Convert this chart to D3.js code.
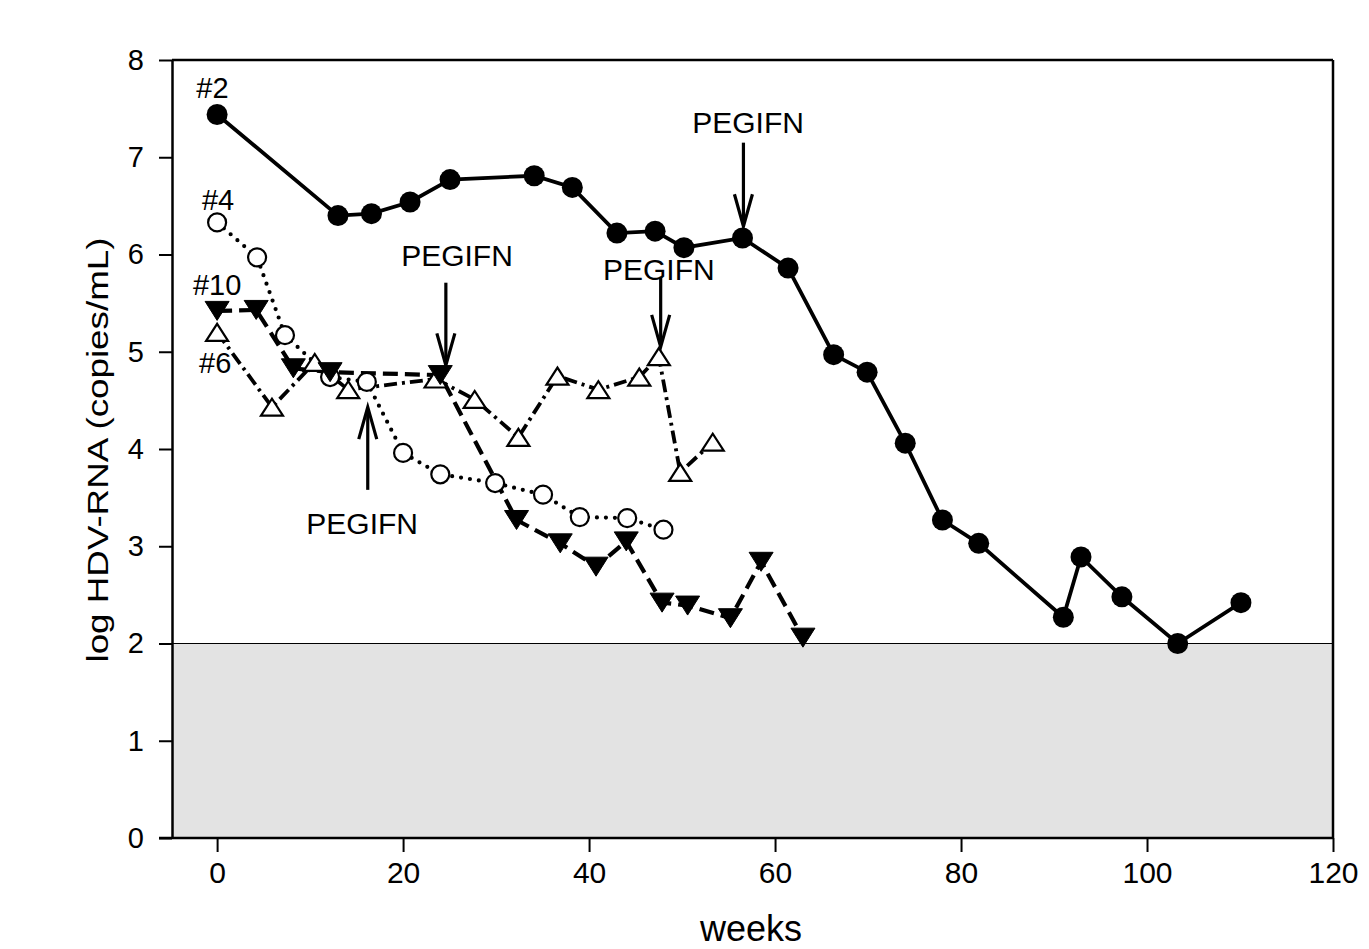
<!DOCTYPE html>
<html>
<head>
<meta charset="utf-8">
<script src="https://cdn.jsdelivr.net/npm/d3@7"></script>
<style>
  html, body { margin: 0; padding: 0; background: #fff; }
  svg { display: block; font-family: "Liberation Sans", Arial, sans-serif; }
</style>
</head>
<body>
<svg id="chart" width="1369" height="949"></svg>
<script>
// ---- data (weeks, log HDV-RNA) ----
const p2Weeks  = [0, 13.0, 16.6, 20.75, 25.05, 34.1, 38.2, 43.0, 47.1, 50.2, 56.5, 61.4, 66.3, 69.9, 74.0, 78.0, 81.9, 91.0, 92.9, 97.3, 103.3, 110.1];
const p2Values = [7.44, 6.40, 6.42, 6.54, 6.77, 6.81, 6.69, 6.22, 6.24, 6.07, 6.17, 5.86, 4.97, 4.79, 4.06, 3.27, 3.03, 2.27, 2.89, 2.48, 2.00, 2.42];

const p4Weeks  = [0, 4.3, 7.3, 12.15, 16.1, 20.0, 24.0, 29.9, 35.05, 39.0, 44.1, 48.0];
const p4Values = [6.33, 5.97, 5.17, 4.74, 4.69, 3.96, 3.74, 3.65, 3.53, 3.30, 3.29, 3.17];

const p10Weeks  = [0, 4.2, 8.2, 12.15, 24.0, 32.2, 36.9, 40.75, 44.0, 47.85, 50.6, 55.2, 58.5, 63.0];
const p10Values = [5.42, 5.43, 4.83, 4.79, 4.76, 3.27, 3.03, 2.79, 3.05, 2.42, 2.39, 2.26, 2.84, 2.06];

const p6Weeks  = [0, 5.9, 10.5, 14.1, 23.5, 27.7, 32.4, 36.6, 41.0, 45.4, 47.5, 49.8, 53.3];
const p6Values = [5.20, 4.43, 4.89, 4.61, 4.72, 4.51, 4.12, 4.75, 4.61, 4.74, 4.95, 3.76, 4.07];

const xTicks = [0, 20, 40, 60, 80, 100, 120];
const yTicks = [0, 1, 2, 3, 4, 5, 6, 7, 8];
const detectionLimit = 2;

const seriesNames  = ["#2", "#4", "#10", "#6"];
const labelWeeks   = [-0.5, 0.1, 0.0, -0.2];
const labelValues  = [7.61, 6.46, 5.58, 4.78];

// PEGIFN annotations: arrow at week, tip value, tail value, text week, text baseline value
const annText      = ["PEGIFN", "PEGIFN", "PEGIFN", "PEGIFN"];
const annArrowWeek = [56.6, 24.6, 47.7, 16.2];
const annTipValue  = [6.29, 4.86, 5.05, 4.43];
const annTailValue = [7.15, 5.71, 5.77, 3.58];
const annTextWeek  = [57.1, 25.8, 47.5, 15.6];
const annTextValue = [7.25, 5.88, 5.74, 3.13];

// ---- layout ----
const svg = d3.select("#chart");
const L = 172, R = 1333, T = 60, B = 838;
const x = d3.scaleLinear().domain([-4.85, 120]).range([L, R]);
const y = d3.scaleLinear().domain([0, 8]).range([B, T]);

const zip = (ws, vs) => ws.map((w, i) => ({w, v: vs[i]}));
const s2 = zip(p2Weeks, p2Values), s4 = zip(p4Weeks, p4Values),
      s10 = zip(p10Weeks, p10Values), s6 = zip(p6Weeks, p6Values);

// grey band below detection limit
svg.append("rect")
  .attr("x", L).attr("y", y(detectionLimit))
  .attr("width", R - L).attr("height", y(0) - y(detectionLimit))
  .attr("fill", "#e3e3e3");
svg.append("line")
  .attr("x1", L).attr("x2", R)
  .attr("y1", y(detectionLimit)).attr("y2", y(detectionLimit))
  .attr("stroke", "#000").attr("stroke-width", 1.2);

// frame (top, right)
svg.append("line").attr("x1", L).attr("x2", R).attr("y1", T).attr("y2", T)
  .attr("stroke", "#000").attr("stroke-width", 2.5);
svg.append("line").attr("x1", R).attr("x2", R).attr("y1", T).attr("y2", B)
  .attr("stroke", "#000").attr("stroke-width", 2.5);

// axes
const xAxis = d3.axisBottom(x).tickValues(xTicks).tickSize(14).tickSizeOuter(0).tickPadding(10);
const gx = svg.append("g").attr("transform", `translate(0,${B})`).call(xAxis);
gx.select(".domain").attr("stroke-width", 2.5).attr("d", `M${L - 13},0H${R}`);
gx.selectAll(".tick line").attr("stroke-width", 2);
gx.selectAll(".tick text").attr("font-size", 30).attr("font-family", "Liberation Sans, Arial, sans-serif").attr("fill", "#000");

const yAxis = d3.axisLeft(y).tickValues(yTicks).tickSize(13).tickSizeOuter(0).tickPadding(15);
const gy = svg.append("g").attr("transform", `translate(${L},0)`).call(yAxis);
gy.select(".domain").attr("stroke-width", 2.5);
gy.selectAll(".tick line").attr("stroke-width", 2);
gy.selectAll(".tick text").attr("font-size", 29).attr("font-family", "Liberation Sans, Arial, sans-serif").attr("fill", "#000");

// axis titles
svg.append("text")
  .attr("x", (x(0) + x(120)) / 2 - 24).attr("y", 941)
  .attr("text-anchor", "middle").attr("font-size", 36)
  .text("weeks");
svg.append("text")
  .attr("transform", `translate(108,450) rotate(-90)`)
  .attr("text-anchor", "middle").attr("font-size", 30)
  .attr("textLength", 425).attr("lengthAdjust", "spacingAndGlyphs")
  .text("log HDV-RNA  (copies/mL)");

const line = d3.line().x(d => x(d.w)).y(d => y(d.v));

// lines
svg.append("path").datum(s6).attr("d", line).attr("fill", "none")
  .attr("stroke", "#000").attr("stroke-width", 3.8).attr("stroke-dasharray", "13,5,3,5");
svg.append("path").datum(s4).attr("d", line).attr("fill", "none")
  .attr("stroke", "#000").attr("stroke-width", 4.2).attr("stroke-linecap", "round").attr("stroke-dasharray", "0,9");
svg.append("path").datum(s10).attr("d", line).attr("fill", "none")
  .attr("stroke", "#000").attr("stroke-width", 4.2).attr("stroke-dasharray", "15,7");
svg.append("path").datum(s2).attr("d", line).attr("fill", "none")
  .attr("stroke", "#000").attr("stroke-width", 3.8);

// markers
const triUp = (cx, cy, w, h) => `M${cx - w / 2},${cy + h / 2}L${cx + w / 2},${cy + h / 2}L${cx},${cy - h / 2}Z`;
const triDown = (cx, cy, w, h) => `M${cx - w / 2},${cy - h / 2}L${cx + w / 2},${cy - h / 2}L${cx},${cy + h / 2}Z`;

svg.append("g").selectAll("path").data(s6).join("path")
  .attr("d", d => triUp(x(d.w), y(d.v), 22, 17))
  .attr("fill", "#fff").attr("stroke", "#000").attr("stroke-width", 2.2);
svg.append("g").selectAll("circle").data(s4).join("circle")
  .attr("cx", d => x(d.w)).attr("cy", d => y(d.v)).attr("r", 9)
  .attr("fill", "#fff").attr("stroke", "#000").attr("stroke-width", 2.2);
svg.append("g").selectAll("path").data(s10).join("path")
  .attr("d", d => triDown(x(d.w), y(d.v), 24, 19))
  .attr("fill", "#000").attr("stroke", "#000").attr("stroke-width", 1);
svg.append("g").selectAll("circle").data(s2).join("circle")
  .attr("cx", d => x(d.w)).attr("cy", d => y(d.v)).attr("r", 10.5)
  .attr("fill", "#000");

// series labels
svg.append("g").selectAll("text").data(seriesNames).join("text")
  .attr("x", (d, i) => x(labelWeeks[i])).attr("y", (d, i) => y(labelValues[i]))
  .attr("text-anchor", "middle").attr("font-size", 29).text(d => d);

// annotations
annText.forEach((t, i) => {
  const ax = x(annArrowWeek[i]), tip = y(annTipValue[i]), tail = y(annTailValue[i]);
  const dir = tip > tail ? 1 : -1;
  const g = svg.append("g").attr("stroke", "#000").attr("fill", "none").attr("stroke-width", 3.2);
  g.append("line").attr("x1", ax).attr("x2", ax).attr("y1", tail).attr("y2", tip - dir * 2);
  g.append("path").attr("d", `M${ax - 9},${tip - dir * 32}L${ax},${tip}L${ax + 9},${tip - dir * 32}`);
  svg.append("text").attr("x", x(annTextWeek[i])).attr("y", y(annTextValue[i]))
    .attr("text-anchor", "middle").attr("font-size", 30).text(t);
});
</script>
</body>
</html>
